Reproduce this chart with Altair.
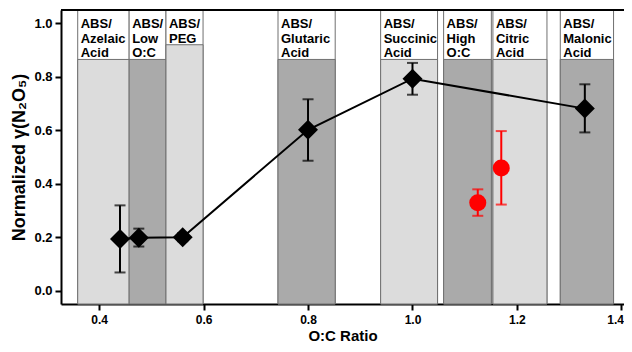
import altair as alt
import pandas as pd

# Bands (sample categories)
band_labels = ["ABS/\nAzelaic\nAcid", "ABS/\nLow\nO:C", "ABS/\nPEG", "ABS/\nGlutaric\nAcid",
               "ABS/\nSuccinic\nAcid", "ABS/\nHigh\nO:C", "ABS/\nCitric\nAcid", "ABS/\nMalonic\nAcid"]
band_left = [0.359, 0.4575, 0.528, 0.7425, 0.939, 1.0596, 1.154, 1.283]
band_right = [0.4575, 0.528, 0.599, 0.852, 1.048, 1.151, 1.2575, 1.385]
band_top = [0.865, 0.865, 0.92, 0.865, 0.865, 0.865, 0.865, 0.865]
band_shade = ["light", "dark", "light", "dark", "light", "dark", "light", "dark"]

# Black series (ABS mixtures)
oc_black = [0.44, 0.476, 0.56, 0.80, 1.00, 1.33]
gamma_black = [0.193, 0.198, 0.20, 0.602, 0.793, 0.681]
lo_black = [0.068, 0.165, 0.185, 0.486, 0.733, 0.592]
hi_black = [0.319, 0.232, 0.215, 0.716, 0.852, 0.772]

# Red series
oc_red = [1.125, 1.17]
gamma_red = [0.329, 0.459]
lo_red = [0.28, 0.322]
hi_red = [0.379, 0.597]

x_ticks = [0.4, 0.6, 0.8, 1.0, 1.2, 1.4]
y_ticks = [0.0, 0.2, 0.4, 0.6, 0.8, 1.0]

XMIN, XMAX = 0.327, 1.405
YMIN, YMAX = -0.05, 1.05
FONT = "Liberation Sans"
PW, PH = 563, 294

bands = pd.DataFrame({
    "label": band_labels, "left": band_left, "right": band_right,
    "top": band_top, "shade": band_shade,
})
bands["ymin"] = YMIN
bands["ymax"] = YMAX

black = pd.DataFrame({"x": oc_black, "y": gamma_black, "lo": lo_black, "hi": hi_black})
red = pd.DataFrame({"x": oc_red, "y": gamma_red, "lo": lo_red, "hi": hi_red})

xs = alt.Scale(domain=[XMIN, XMAX], nice=False, zero=False)
ys = alt.Scale(domain=[YMIN, YMAX], nice=False, zero=False)

last_tick = "datum.value > 1.39"
xax = alt.Axis(values=x_ticks, format=".1f", title="O:C Ratio", grid=False,
               titleBaseline="alphabetic", titleY=36.5,
               labelAlign=alt.condition(last_tick, alt.value("right"), alt.value("center")),
               labelOffset=alt.condition(last_tick, alt.value(2), alt.value(0)))
yax = alt.Axis(values=y_ticks, format=".1f", title="Normalized γ(N₂O₅)", grid=False)

base_b = alt.Chart(bands)

band_bg = base_b.mark_rect(fill="white", stroke="#707070", strokeWidth=1).encode(
    x=alt.X("left:Q", scale=xs, axis=xax), x2="right:Q",
    y=alt.Y("ymin:Q", scale=ys, axis=yax), y2="ymax:Q",
)
band_fill = base_b.mark_rect(stroke="#707070", strokeWidth=1).encode(
    x=alt.X("left:Q", scale=xs), x2="right:Q",
    y=alt.Y("ymin:Q", scale=ys), y2="top:Q",
    fill=alt.Fill("shade:N", scale=alt.Scale(domain=["light", "dark"], range=["#dcdcdc", "#aaaaaa"]), legend=None),
)
band_text = base_b.mark_text(
    align="left", baseline="alphabetic", dx=3, font=FONT, fontWeight="bold",
    fontSize=13, lineBreak="\n", lineHeight=14.5, color="black",
).encode(
    x=alt.X("left:Q", scale=xs), y=alt.value(18), text="label:N",
)

def series(df, color, shape, size):
    b = alt.Chart(df)
    err = b.mark_rule(color=color, strokeWidth=2).encode(
        x=alt.X("x:Q", scale=xs), y=alt.Y("lo:Q", scale=ys), y2="hi:Q")
    cap_lo = b.mark_tick(color=color, orient="horizontal", size=11, thickness=2).encode(
        x=alt.X("x:Q", scale=xs), y=alt.Y("lo:Q", scale=ys))
    cap_hi = b.mark_tick(color=color, orient="horizontal", size=11, thickness=2).encode(
        x=alt.X("x:Q", scale=xs), y=alt.Y("hi:Q", scale=ys))
    pts = b.mark_point(shape=shape, filled=True, size=size, color=color, opacity=1).encode(
        x=alt.X("x:Q", scale=xs), y=alt.Y("y:Q", scale=ys))
    return err, cap_lo, cap_hi, pts

line = alt.Chart(black).mark_line(color="black", strokeWidth=2).encode(
    x=alt.X("x:Q", scale=xs), y=alt.Y("y:Q", scale=ys), order="x:Q")

b_err, b_lo, b_hi, b_pts = series(black, "black", "diamond", 400)
r_err, r_lo, r_hi, r_pts = series(red, "#ff0000", "circle", 290)

top_rule = alt.Chart(bands).mark_rule(color="black", strokeWidth=2).encode(
    x=alt.value(0), x2=alt.value(PW), y=alt.value(0))

chart = alt.layer(
    band_bg, band_fill, band_text,
    b_err, b_lo, b_hi, line, b_pts,
    r_err, r_lo, r_hi, r_pts,
    top_rule,
).properties(
    width=PW, height=PH,
    autosize=alt.AutoSizeParams(type="none"),
    padding={"left": 53, "top": 2, "right": 0, "bottom": 40},
    background="white",
).configure_view(stroke=None).configure_axis(
    domainColor="black", domainWidth=2, tickColor="black", tickWidth=2, tickSize=6,
    labelFont=FONT, labelFontWeight="bold", labelFontSize=13, labelColor="black",
    titleFont=FONT, titleFontWeight="bold", titleColor="black",
).configure_axisX(
    labelPadding=4, labelFontSize=12, titleFontSize=15,
).configure_axisY(
    labelPadding=3, titleFontSize=18, titlePadding=5,
)

chart.save("out.html", embed_options={"renderer": "svg", "actions": False})
